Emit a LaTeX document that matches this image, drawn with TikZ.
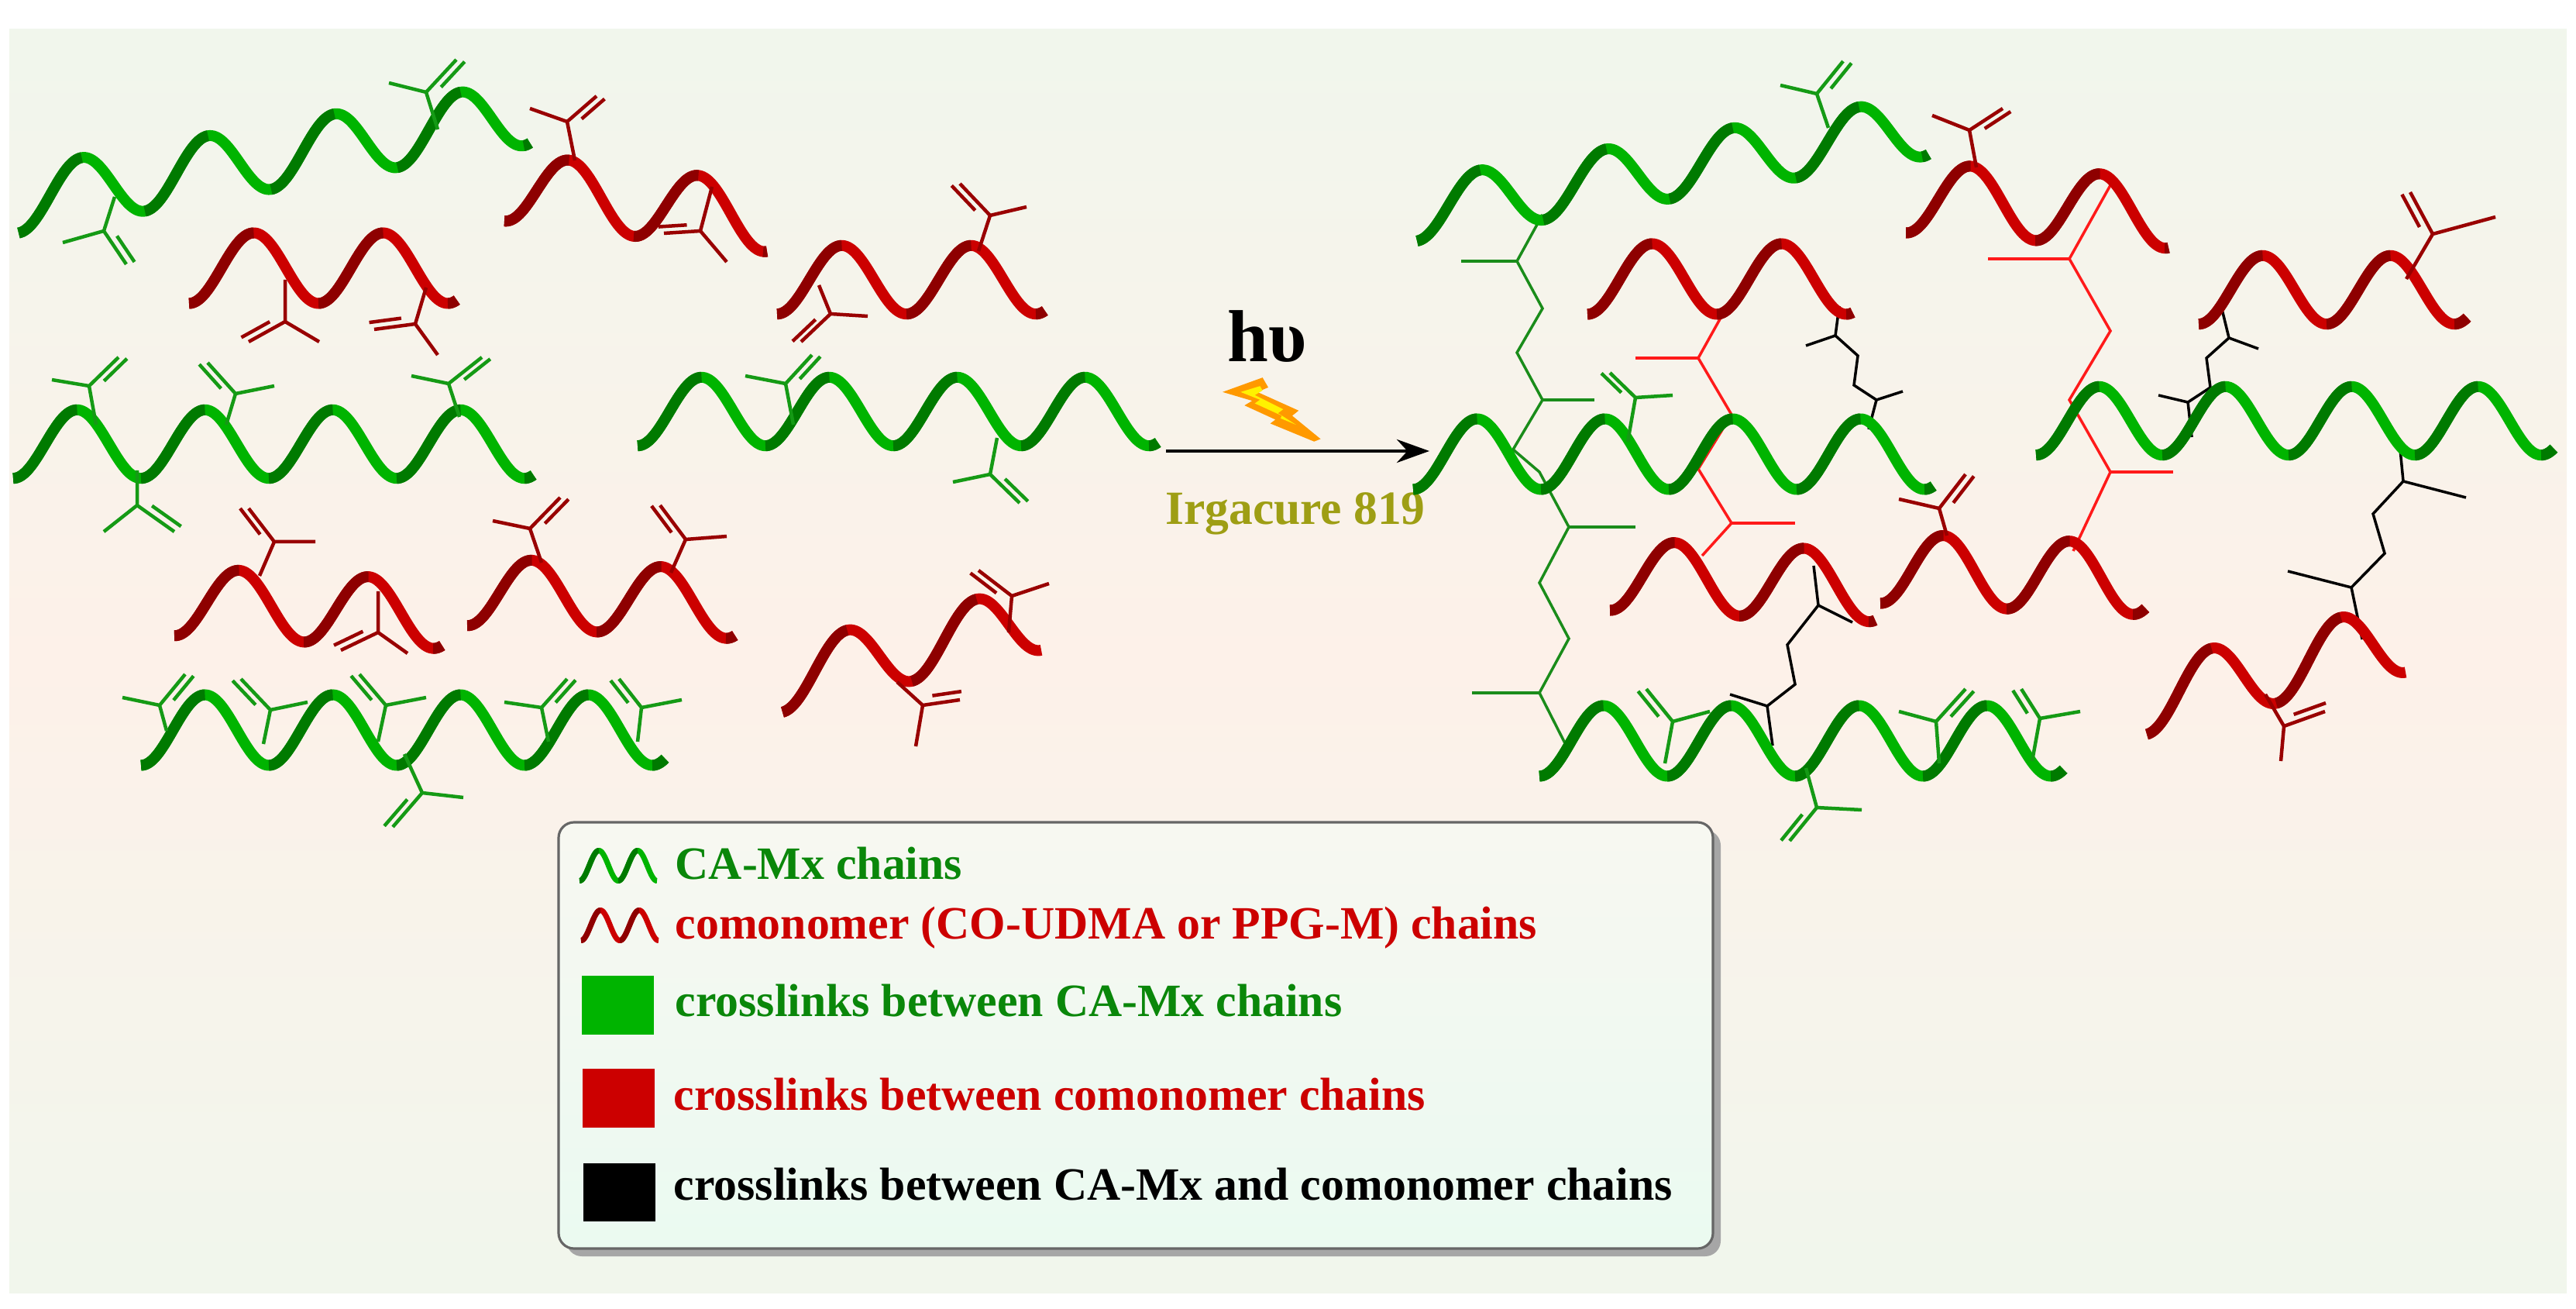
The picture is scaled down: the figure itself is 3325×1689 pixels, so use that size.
\documentclass[tikz,border=0pt]{standalone}
\usepackage{fontspec}
\setmainfont{Liberation Serif}
\usetikzlibrary{calc,arrows.meta,shadows}
\definecolor{gl}{HTML}{00B400}
\definecolor{gd}{HTML}{007A00}
\definecolor{rl}{HTML}{CC0000}
\definecolor{rd}{HTML}{8E0000}
\definecolor{pg}{HTML}{159A15}
\definecolor{pr}{HTML}{990000}
\definecolor{xg}{HTML}{1A8C1A}
\definecolor{xr}{HTML}{FF1A1A}
\definecolor{bgA}{HTML}{E4FBF0}
\definecolor{bgB}{HTML}{FDF1E9}
\definecolor{olive}{HTML}{9E9E14}
\definecolor{txg}{HTML}{0A870A}
\definecolor{txr}{HTML}{CC0000}
\pgfdeclareverticalshading{bgsh}{100bp}{color(0bp)=(bgA); color(50bp)=(bgB); color(100bp)=(bgA)}
\pgfdeclareverticalshading{legsh}{100bp}{color(0bp)=(bgA); color(100bp)=(bgB!60!white)}
\tikzset{
  pend/.style={line width=0.045cm},
  xl/.style={line width=0.035cm, line join=miter},
  legtext/.style={anchor=base west, inner sep=0pt, font=\bfseries\fontsize{17}{20}\selectfont},
}
% x0, y0, A, P, N, drift, colour prefix (g/r), width
\newcommand\mychain[8]{%
  \pgfmathsetmacro\tend{#5*360}%
  \pgfmathsetmacro\amp{#3*1.3}%
  \draw[line width=#8,#7l] plot[variable=\t,domain=0:\tend,samples=140,smooth]
     ({#1+\t/360*#4},{#2+\amp*cos(\t)+#6*(\t/\tend)});
  \pgfmathtruncatemacro\nk{ceil(#5)-1}%
  \foreach \k in {0,...,\nk}{%
    \pgfmathsetmacro\ta{\k*360}%
    \pgfmathsetmacro\tb{min(\k*360+180,\tend)}%
    \draw[line width=#8,#7d] plot[variable=\t,domain=\ta:\tb,samples=40,smooth]
     ({#1+\t/360*#4},{#2+\amp*cos(\t)+#6*(\t/\tend)});
  }%
}
% attach, branch, single end, double end, colour
\newcommand\mypend[5]{%
  \draw[pend,#5] (#1) -- (#2) -- (#3) (#2) -- (#4);
  \path ($(#2)!0.11cm!(#3)$) coordinate (pv);
  \path ($(#2)!0.22!(#4)$) coordinate (pw);
  \draw[pend,#5] ($(pw)+(#2)-(pv)$) -- ($(#4)+(#2)-(pv)$);
}
\begin{document}
\begin{tikzpicture}[x=0.01cm,y=-0.01cm]
\useasboundingbox (0,0) rectangle (3325,1689);
% background
\shade[shading=bgsh] (12,38) rectangle (3313,1668);

% ---------- left panel chains ----------
\mychain{24}{259}{32}{163}{4.05}{-114}{g}{0.14cm}
\mychain{651}{241}{34}{167}{2.03}{40}{r}{0.14cm}
\mychain{244}{346}{35}{167}{2.07}{0}{r}{0.14cm}
\mychain{1003}{361}{34}{167}{2.07}{0}{r}{0.14cm}
\mychain{17}{573}{34}{165}{4.07}{0}{g}{0.14cm}
\mychain{823}{531}{34}{165}{4.07}{0}{g}{0.14cm}
\mychain{225}{776}{34}{167}{2.07}{17}{r}{0.14cm}
\mychain{603}{763}{34}{167}{2.07}{17}{r}{0.14cm}
\mychain{1010}{876}{33}{167}{2.0}{-80}{r}{0.14cm}
\mychain{182}{942}{35}{165}{4.1}{0}{g}{0.14cm}

% ---------- left panel pendants ----------
\mypend{565,167}{550,119}{502,107}{589,77}{pg}
\mypend{148,254}{134,298}{81,313}{163,341}{pg}
\mypend{742,207}{732,157}{684,140}{770,124}{pr}
\mypend{919,241}{904,298}{938,338}{857,301}{pr}
\mypend{368,361}{368,415}{412,441}{321,441}{pr}
\mypend{550,371}{536,418}{565,458}{483,425}{pr}
\mypend{1263,324}{1278,278}{1325,267}{1239,237}{pr}
\mypend{1057,368}{1072,405}{1120,408}{1034,441}{pr}
\mypend{124,548}{115,498}{67,490}{153,461}{pg}
\mypend{292,548}{304,508}{354,498}{268,468}{pg}
\mypend{593,538}{579,495}{531,485}{622,461}{pg}
\mypend{177,607}{177,652}{134,686}{225,686}{pg}
\mypend{1024,548}{1014,495}{962,485}{1048,458}{pg}
\mypend{1287,565}{1278,612}{1230,622}{1316,649}{pg}
\mypend{335,743}{354,699}{407,699}{321,656}{pr}
\mypend{488,763}{488,816}{526,843}{440,839}{pr}
\mypend{699,726}{684,682}{636,672}{723,642}{pr}
\mypend{866,739}{885,696}{938,692}{852,652}{pr}
\mypend{1302,816}{1306,769}{1354,753}{1263,736}{pr}
\mypend{1158,880}{1191,910}{1182,963}{1239,903}{pr}
\mypend{215,943}{206,910}{158,900}{239,870}{pg}
\mypend{340,960}{349,916}{397,906}{311,876}{pg}
\mypend{488,957}{498,910}{550,900}{464,870}{pg}
\mypend{708,957}{699,913}{651,906}{732,876}{pg}
\mypend{823,957}{828,913}{880,903}{799,876}{pg}
\mypend{522,973}{545,1023}{598,1029}{507,1067}{pg}

% ---------- arrow, h nu, lightning ----------
\coordinate (arS) at (1505,582);
\coordinate (arE) at (1845,582);
\draw[line width=1.4pt,-{Stealth[length=0.42cm,width=0.3cm]}] (arS) -- (arE);
\node[font=\bfseries\fontsize{27}{30}\selectfont, anchor=base] (hnu) at (1636,467) {hυ};
\node[font=\bfseries\fontsize{17.5}{20}\selectfont, anchor=base, text=olive] (irg) at (1672,677) {Irgacure 819};
\begin{scope}[shift={(1400,400)}, x=0.00333cm, y=-0.00333cm]
\fill[orange!80!yellow] (535,318) -- (690,262) -- (712,300) -- (670,318) -- (830,390) -- (805,410) -- (915,500) -- (890,510) -- (720,440) -- (740,425) -- (620,370) -- (650,352) -- cycle;
\fill[yellow] (605,318) -- (680,295) -- (690,312) -- (660,330) -- (770,385) -- (750,400) -- (820,445) -- (760,420) -- (765,410) -- (660,362) -- (680,348) -- cycle;
\end{scope}

% ---------- right panel crosslinks ----------
\draw[xl,xg] (1991,277) -- (1958,337) -- (1991,398) -- (1958,455) -- (1991,516) -- (1953,580) -- (1987,609) -- (2025,680) -- (1987,752) -- (2025,824) -- (1987,894) -- (2020,959);
\draw[xl,xg] (1958,337) -- (1886,337) (1991,516) -- (2058,516) (2025,680) -- (2111,680) (1987,894) -- (1900,894);
\draw[xl,xr] (2231,392) -- (2192,462) -- (2235,535) -- (2192,605) -- (2235,675) -- (2197,717);
\draw[xl,xr] (2192,462) -- (2111,462) (2235,675) -- (2317,675);
\draw[xl,xr] (2724,239) -- (2671,334) -- (2724,427) -- (2671,516) -- (2724,609) -- (2676,711);
\draw[xl,xr] (2671,334) -- (2566,334) (2724,609) -- (2805,609);
\draw[xl,black] (2374,395) -- (2369,433) -- (2398,459) -- (2393,497) -- (2422,516) -- (2412,554);
\draw[xl,black] (2369,433) -- (2331,446) (2422,516) -- (2456,505);
\draw[xl,black] (2867,395) -- (2877,436) -- (2848,462) -- (2853,500) -- (2824,519) -- (2829,564);
\draw[xl,black] (2877,436) -- (2915,450) (2824,519) -- (2786,510);
\draw[xl,black] (3097,570) -- (3102,621) -- (3063,663) -- (3078,714) -- (3035,758) -- (3049,825);
\draw[xl,black] (3102,621) -- (3183,642) (3035,758) -- (2953,737);
\draw[xl,black] (2341,730) -- (2347,781) -- (2307,832) -- (2317,883) -- (2281,911) -- (2288,962);
\draw[xl,black] (2347,781) -- (2391,803) (2281,911) -- (2233,896);

% ---------- right panel chains ----------
\mychain{1829}{272}{30}{163}{4.05}{-110}{g}{0.14cm}
\mychain{2460}{255}{35}{167}{2.03}{20}{r}{0.14cm}
\mychain{2049}{360}{35}{167}{2.05}{0}{r}{0.14cm}
\mychain{2838}{374}{34}{165}{2.1}{0}{r}{0.14cm}
\mychain{1824}{586}{35}{165}{4.07}{0}{g}{0.14cm}
\mychain{2628}{543}{34}{163}{4.1}{0}{g}{0.14cm}
\mychain{2078}{742}{35}{167}{2.05}{15}{r}{0.14cm}
\mychain{2427}{733}{35}{163}{2.1}{15}{r}{0.14cm}
\mychain{2771}{902}{35}{167}{2.0}{-80}{r}{0.14cm}
\mychain{1987}{956}{35}{165}{4.1}{0}{g}{0.14cm}

% ---------- right panel pendants ----------
\mypend{2360,165}{2345,121}{2298,110}{2379,79}{pg}
\mypend{2551,216}{2542,168}{2494,149}{2585,140}{pr}
\mypend{3106,360}{3140,302}{3221,280}{3111,248}{pr}
\mypend{2101,570}{2111,513}{2159,510}{2078,481}{pg}
\mypend{2513,691}{2503,656}{2451,644}{2537,612}{pr}
\mypend{2924,896}{2948,937}{2944,982}{3001,918}{pr}
\mypend{2149,985}{2159,931}{2207,918}{2125,889}{pg}
\mypend{2503,985}{2499,931}{2451,918}{2537,889}{pg}
\mypend{2623,982}{2633,927}{2685,918}{2609,889}{pg}
\mypend{2331,991}{2345,1042}{2403,1045}{2310,1085}{pg}

% ---------- legend ----------
\fill[gray!70, rounded corners=0.2cm] (731,1071) rectangle (2221,1621);
\shade[shading=legsh, rounded corners=0.2cm] (721,1061) rectangle (2211,1611);
\draw[gray!80!black, line width=0.9pt, rounded corners=0.2cm] (721,1061) rectangle (2211,1611);
\mychain{748}{1117}{15}{50}{2}{0}{g}{0.07cm}
\mychain{750}{1194}{15}{50}{2}{0}{r}{0.07cm}
\node[legtext, text=txg] (t1) at (871,1134) {CA-Mx chains};
\node[legtext, text=txr] (t2) at (871,1211) {comonomer (CO-UDMA or PPG-M) chains};
\fill[gl] (751,1259) rectangle (844,1335);
\node[legtext, text=txg] (t3) at (871,1311) {crosslinks between CA-Mx chains};
\fill[rl] (752,1379) rectangle (845,1455);
\node[legtext, text=txr] (t4) at (869,1432) {crosslinks between comonomer chains};
\fill[black] (753,1501) rectangle (846,1576);
\node[legtext, text=black] (t5) at (869,1548) {crosslinks between CA-Mx and comonomer chains};
\end{tikzpicture}
\end{document}
